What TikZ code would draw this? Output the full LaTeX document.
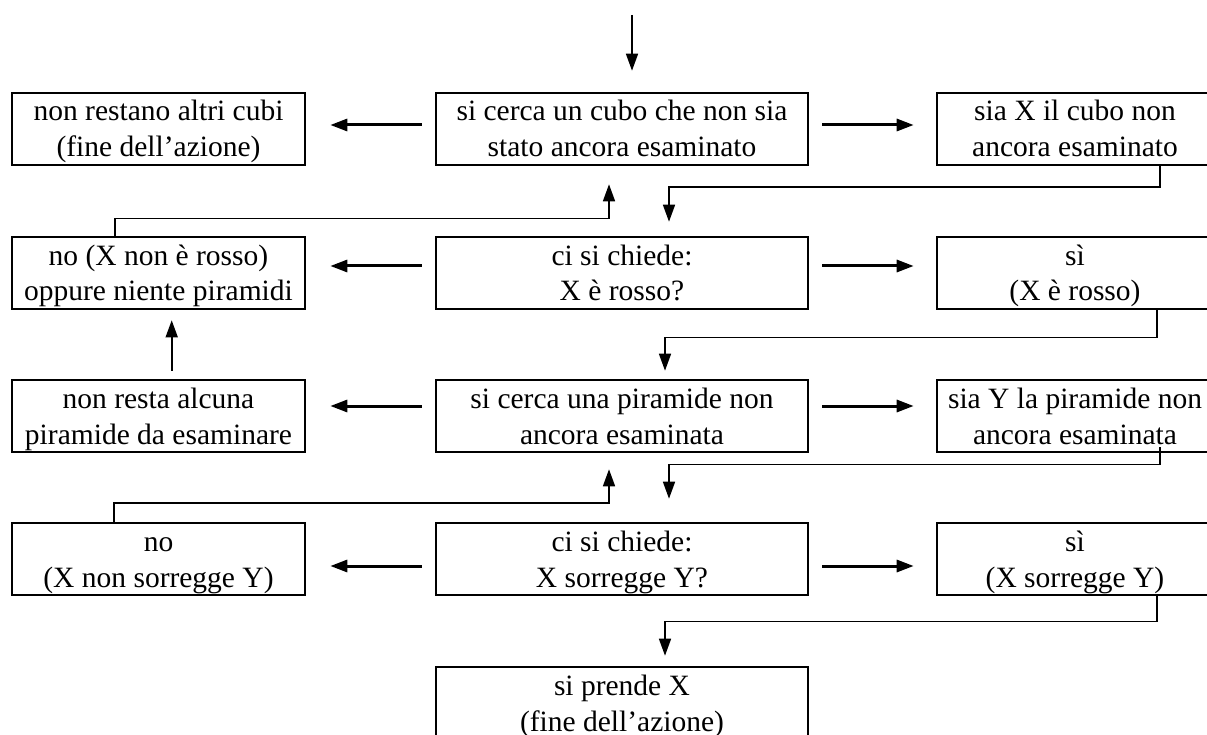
\documentclass[tikz,border=0pt]{standalone}
\usepackage{fontspec}
\setmainfont{Liberation Serif}
\usetikzlibrary{arrows.meta,calc}
\newcommand{\twolines}[2]{\raisebox{8pt}[36pt][36pt]{\begin{tabular}[t]{@{}c@{}}#1\\#2\end{tabular}}}
\begin{document}
\begin{tikzpicture}[x=1pt,y=-1pt,
  box/.style={draw, line width=2.6pt, minimum height=72pt, inner sep=0pt,
    font=\fontsize{29.5}{36}\selectfont},
  lbox/.style={box, minimum width=293pt},
  mbox/.style={box, minimum width=372pt},
  rbox/.style={box, minimum width=276pt},
  harrow/.style={line width=3pt, -{Triangle[length=17pt,width=12pt]}},
  carrow/.style={line width=1.6pt, -{Triangle[length=17pt,width=12pt]}},
]
\useasboundingbox (0,0) rectangle (1207,735);
\clip (0,0) rectangle (1207,735);

% row 1
\node[lbox] (l1) at (158.5,129) {\twolines{non restano altri cubi}{(fine dell’azione)}};
\node[mbox] (m1) at (622,129) {\twolines{si cerca un cubo che non sia}{stato ancora esaminato}};
\node[rbox] (r1) at (1075,129) {\twolines{sia X il cubo non}{ancora esaminato}};
% row 2
\node[lbox] (l2) at (158.5,273) {\twolines{no (X non è rosso)}{oppure niente piramidi}};
\node[mbox] (m2) at (622,273) {\twolines{ci si chiede:}{X è rosso?}};
\node[rbox] (r2) at (1075,273) {\twolines{sì}{(X è rosso)}};
% row 3
\node[lbox] (l3) at (158.5,416) {\twolines{non resta alcuna}{piramide da esaminare}};
\node[mbox] (m3) at (622,416) {\twolines{si cerca una piramide non}{ancora esaminata}};
\node[rbox] (r3) at (1075,416) {\twolines{sia Y la piramide non}{ancora esaminata}};
% row 4
\node[lbox] (l4) at (158.5,559) {\twolines{no}{(X non sorregge Y)}};
\node[mbox] (m4) at (622,559) {\twolines{ci si chiede:}{X sorregge Y?}};
\node[rbox] (r4) at (1075,559) {\twolines{sì}{(X sorregge Y)}};
% row 5
\node[mbox] (m5) at (622,703) {\twolines{si prende X}{(fine dell’azione)}};

% entry arrow
\coordinate (start) at (632,15);
\draw[carrow] (start) -- ($(m1.north)+(10,-21)$);

% horizontal arrows
\draw[harrow] ($(m1.west)+(-13,-4)$) -- ($(l1.east)+(24,-4)$);
\draw[harrow] ($(m1.east)+(13,-4)$) -- ($(r1.west)+(-22,-4)$);
\draw[harrow] ($(m2.west)+(-13,-7)$) -- ($(l2.east)+(24,-7)$);
\draw[harrow] ($(m2.east)+(13,-7)$) -- ($(r2.west)+(-22,-7)$);
\draw[harrow] ($(m3.west)+(-13,-10)$) -- ($(l3.east)+(24,-10)$);
\draw[harrow] ($(m3.east)+(13,-10)$) -- ($(r3.west)+(-22,-10)$);
\draw[harrow] ($(m4.west)+(-13,7)$) -- ($(l4.east)+(24,7)$);
\draw[harrow] ($(m4.east)+(13,7)$) -- ($(r4.west)+(-22,7)$);

% connectors
\draw[carrow] ($(r1.south west)+(224,0)$) -- ++(0,21) -| ($(m2.north)+(47,-14)$);
\draw[carrow] ($(l2.north west)+(104,0)$) -- ++(0,-17) -| ($(m1.south)+(-13,18)$);
\draw[carrow] ($(r2.south west)+(221,0)$) -- ++(0,27) -| ($(m3.north)+(43,-8)$);
\draw[carrow] ($(l3.north west)+(161,-8)$) -- ($(l2.south west)+(161,10)$);
\draw[carrow] ($(r3.south west)+(224,-6)$) -- ++(0,17) -| ($(m4.north)+(47,-23)$);
\draw[carrow] ($(l4.north west)+(103,0)$) -- ++(0,-19) -| ($(m3.south)+(-13,16)$);
\draw[carrow] ($(r4.south west)+(221,0)$) -- ++(0,25) -| ($(m5.north)+(43,-10)$);
\end{tikzpicture}
\end{document}
